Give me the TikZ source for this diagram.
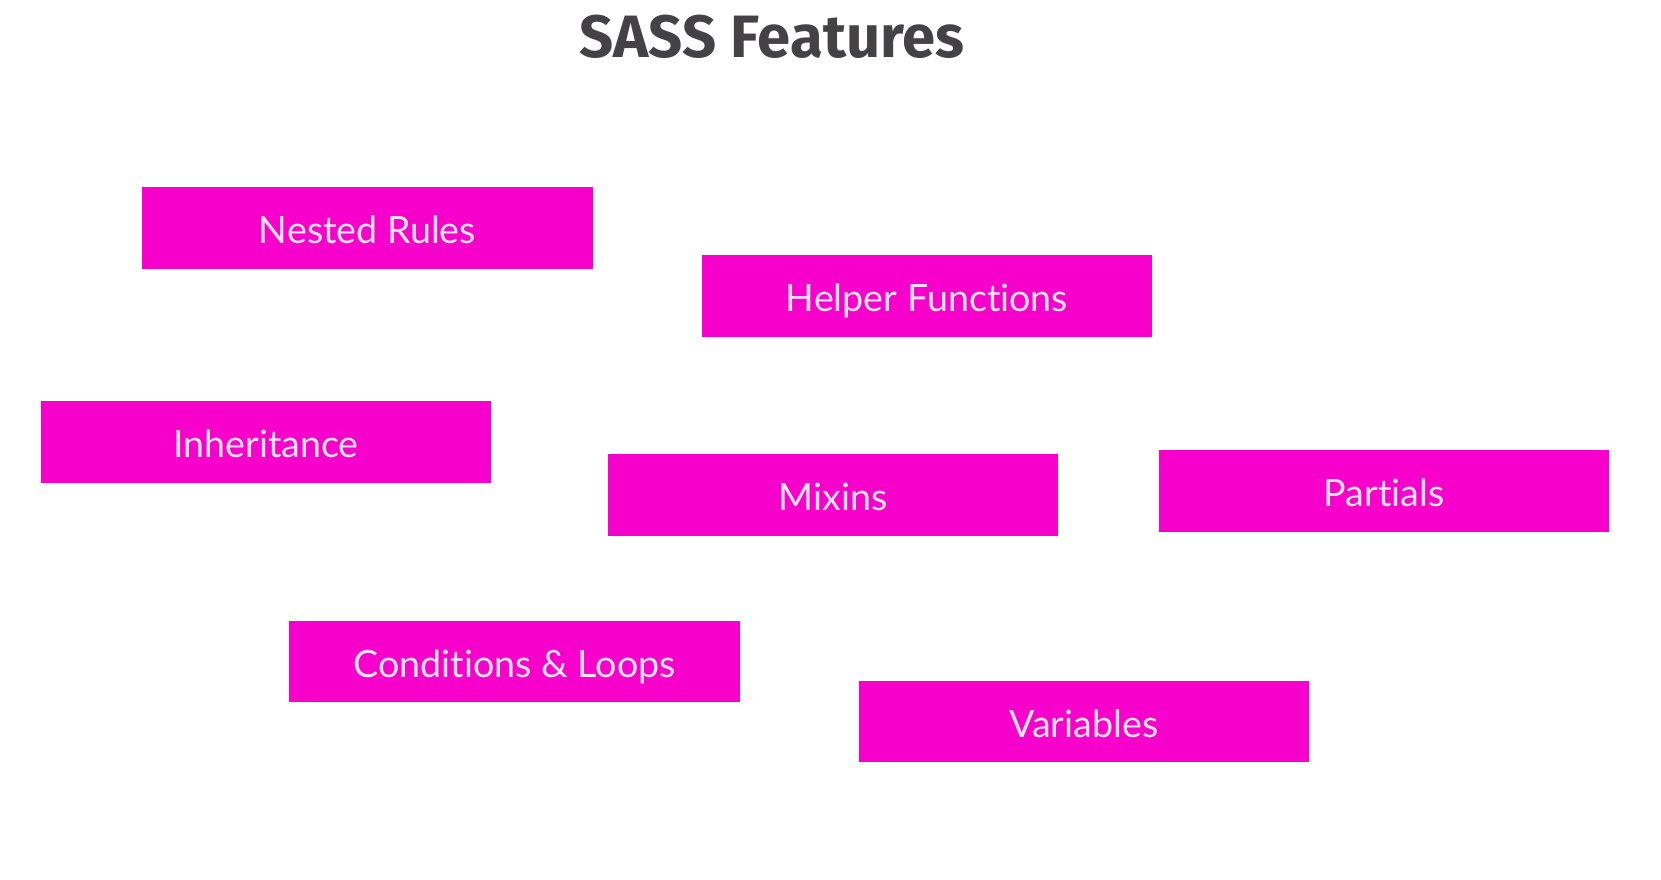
\documentclass[tikz,border=0pt]{standalone}
\usepackage{fontspec}
\setmainfont{Lato}[Ligatures={NoCommon,NoRare}]
\newfontfamily\headfont{Fira Sans}
\definecolor{sassPink}{RGB}{247,0,204}
\definecolor{sassText}{RGB}{255,228,248}
\definecolor{sassHead}{RGB}{68,66,70}
\tikzset{feature/.style={rectangle,fill=sassPink,text=sassText,minimum width=4.5cm,minimum height=0.81cm,inner sep=0pt,text height=1.75ex,text depth=0pt,font=\fontsize{10.7}{13}\selectfont},heading/.style={text=sassHead,font=\headfont\bfseries\fontsize{17}{20}\selectfont}}

\begin{document}
\begin{tikzpicture}[x=0.01cm,y=-0.01cm]
\useasboundingbox (0,0) rectangle (1661,880);
\node[heading] (title) at (772,37) {SASS Features};
\node[feature] (nested) at (367.5,228) {Nested Rules};
\node[feature] (helper) at (927,296) {Helper Functions};
\node[feature] (inherit) at (266,442) {Inheritance};
\node[feature] (mixins) at (833,495) {Mixins};
\node[feature] (partials) at (1384,491) {Partials};
\node[feature] (loops) at (514.5,661.5) {Conditions \& Loops};
\node[feature] (vars) at (1084,721.5) {Variables};
\end{tikzpicture}
\end{document}
